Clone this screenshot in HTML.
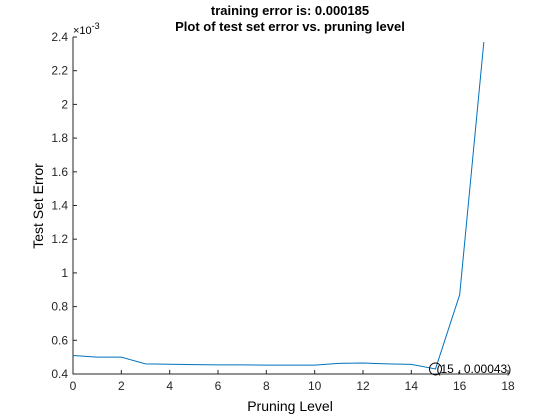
<!DOCTYPE html>
<html><head><meta charset="utf-8"><style>
body{margin:0;background:#fff;}
svg{display:block;font-family:"Liberation Sans",sans-serif;}
</style></head><body>
<svg id="chart" width="560" height="420">
<rect width="560" height="420" fill="#fff"/>
<text x="290" y="15" text-anchor="middle" font-size="13" font-weight="bold">training error is: 0.000185</text>
<text x="290" y="31" text-anchor="middle" font-size="13" font-weight="bold">Plot of test set error vs. pruning level</text>
<g id="axes"></g>
<text x="290" y="411" text-anchor="middle" font-size="14">Pruning Level</text>
<text transform="translate(43,206) rotate(-90)" text-anchor="middle" font-size="14">Test Set Error</text>
<text x="73" y="34" font-size="11">×10<tspan dy="-5" font-size="9">-3</tspan></text>
</svg>
<script>
const levels=[0,1,2,3,4,5,6,7,8,9,10,11,12,13,14,15,16,17];
const errors=[0.51,0.50,0.50,0.46,0.458,0.456,0.454,0.454,0.453,0.453,0.453,0.463,0.465,0.46,0.457,0.43,0.87,2.37];
const xTicks=[0,2,4,6,8,10,12,14,16,18];
const yTicks=[0.4,0.6,0.8,1,1.2,1.4,1.6,1.8,2,2.2,2.4];
const minLevel=15, minErrLabel="(15 , 0.00043)";
const NS="http://www.w3.org/2000/svg";
const X0=73,X1=508,Y0=374,Y1=37;
const sx=v=>X0+(v-0)/(18-0)*(X1-X0);
const sy=v=>Y0-(v-0.4)/(2.4-0.4)*(Y0-Y1);
const g=document.getElementById('axes');
function mk(t,a){const e=document.createElementNS(NS,t);for(const k in a)e.setAttribute(k,a[k]);g.appendChild(e);return e;}
const frame=mk('path',{d:`M${X0},${Y1}V${Y0}H${X1}`,fill:'none',stroke:'#262626','stroke-width':1});


xTicks.forEach(t=>{const x=sx(t);
 const l=mk('line',{x1:x,x2:x,y1:Y0,y2:Y0-4,stroke:'#262626'});
 
 
 const tx=mk('text',{x:x,y:Y0+16,'text-anchor':'middle','font-size':12,fill:'#262626'});tx.textContent=t;
 
 });
yTicks.forEach(t=>{const y=sy(t);
 const l=mk('line',{x1:X0,x2:X0+4,y1:y,y2:y,stroke:'#262626'});
 
 
 const tx=mk('text',{x:X0-5,y:y+4,'text-anchor':'end','font-size':12,fill:'#262626'});tx.textContent=String(t);
 
 });
const line=mk('polyline',{points:levels.map((l,i)=>sx(l)+','+sy(errors[i])).join(' '),fill:'none',stroke:'#0072bd','stroke-width':1});


const mi=levels.indexOf(minLevel);
const c=mk('circle',{cx:sx(minLevel),cy:sy(errors[mi]),r:6,fill:'none',stroke:'#000'});


const lab=mk('text',{x:sx(minLevel)+1,y:sy(errors[mi])+4,'font-size':12});lab.textContent=minErrLabel;


</script>
</body></html>
